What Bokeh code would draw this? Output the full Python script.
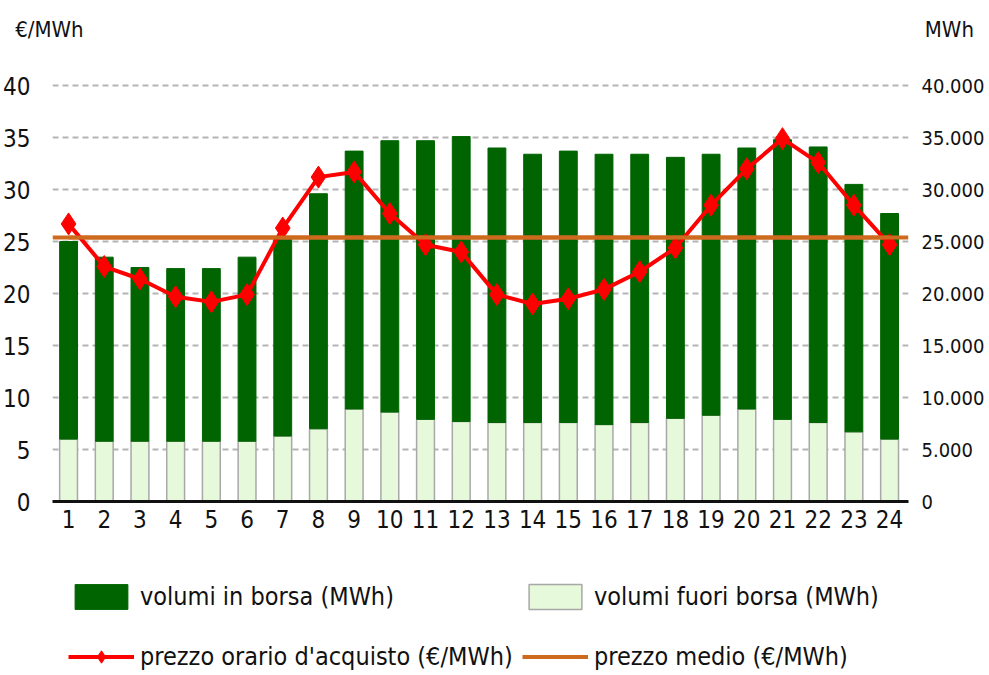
import numpy as np
from bokeh.plotting import figure
from bokeh.layouts import column
from bokeh.models import (LinearAxis, Range1d, FixedTicker, Span, Legend, LegendItem)
from bokeh.embed import file_html
from bokeh.resources import INLINE

# ---- data ----
ore = list(range(1, 25))
volumi_fuori_borsa = [6000, 5800, 5800, 5800, 5800, 5800, 6300, 7000, 8900, 8600, 7900, 7700,
                      7600, 7600, 7600, 7400, 7600, 8000, 8300, 8900, 7900, 7600, 6700, 6000]
volumi_in_borsa = [19000, 17700, 16700, 16600, 16600, 17700, 18900, 22600, 24800, 26100, 26800, 27400,
                   26400, 25800, 26100, 26000, 25800, 25100, 25100, 25100, 26900, 26500, 23800, 21700]
prezzo_orario = [26.7, 22.6, 21.4, 19.7, 19.2, 19.9, 26.3, 31.2, 31.7, 27.7, 24.7, 24.0,
                 19.9, 19.0, 19.5, 20.4, 22.1, 24.4, 28.5, 32.0, 34.9, 32.6, 28.5, 24.7]
prezzo_medio = 25.4

tick_prezzo = [0, 5, 10, 15, 20, 25, 30, 35, 40]
tick_volumi = [0, 5000, 10000, 15000, 20000, 25000, 30000, 35000, 40000]
tick_volumi_labels = ["0", "5.000", "10.000", "15.000", "20.000", "25.000", "30.000", "35.000", "40.000"]
unita_sinistra = "€/MWh"
unita_destra = "MWh"
etichette_legenda = ["volumi in borsa (MWh)", "volumi fuori borsa (MWh)",
                     "prezzo orario d'acquisto (€/MWh)", "prezzo medio (€/MWh)"]

FONT = "DejaVu Sans Condensed, Liberation Sans Narrow, Liberation Sans"
DARK = "#006400"
LIGHT = "#E6F9DA"
RED = "#FF0000"
ORANGE = "#CD6A1E"
TXT = "#111111"

W = 987
MAIN_H = 560
LEG_H = 673 - MAIN_H

fuori = np.array(volumi_fuori_borsa)
borsa = np.array(volumi_in_borsa)


def draw_series(fig):
    rf = fig.vbar(x=ore, width=0.5, bottom=0, top=fuori, y_range_name="vol",
                  fill_color=LIGHT, line_color="#A8A8A8", line_width=1.5)
    rb = fig.vbar(x=ore, width=0.5, bottom=fuori, top=fuori + borsa, y_range_name="vol",
                  fill_color=DARK, line_color=DARK, line_width=1)
    rm = fig.line(x=ore, y=[prezzo_medio] * len(ore), line_color=ORANGE, line_width=4)
    rl = fig.line(x=ore, y=prezzo_orario, line_color=RED, line_width=4)
    rs = fig.scatter(x=ore, y=prezzo_orario, marker="diamond", size=22,
                     fill_color=RED, line_color=RED)
    return rf, rb, rm, rl, rs


def plain_axis(ax, size, standoff):
    ax.axis_line_color = None
    ax.major_tick_line_color = None
    ax.minor_tick_line_color = None
    ax.major_tick_out = 0
    ax.major_tick_in = 0
    ax.minor_tick_out = 0
    ax.minor_tick_in = 0
    ax.major_label_standoff = standoff
    ax.major_label_text_font = FONT
    ax.major_label_text_font_size = size
    ax.major_label_text_color = TXT


# ---------------- main chart ----------------
p = figure(width=W, height=MAIN_H, output_backend="svg", toolbar_location=None,
           x_range=Range1d(0.55, 24.53), y_range=Range1d(0, 40.3),
           min_border_left=52, min_border_right=W - 912, min_border_top=82,
           min_border_bottom=MAIN_H - 501, margin=0)
p.outline_line_color = None
p.extra_y_ranges = {"vol": Range1d(0, 40300)}
p.extra_x_ranges = {"units": Range1d(0, 1)}

draw_series(p)
p.add_layout(Span(location=prezzo_medio, dimension="width", line_color=ORANGE, line_width=4))

p.xaxis.ticker = FixedTicker(ticks=ore)
plain_axis(p.xaxis[0], "24px", 8)
p.xaxis.axis_line_color = TXT
p.xaxis.axis_line_width = 3

p.yaxis.ticker = FixedTicker(ticks=tick_prezzo)
plain_axis(p.yaxis[0], "24px", 22)

ax_r = LinearAxis(y_range_name="vol", ticker=FixedTicker(ticks=tick_volumi),
                  major_label_overrides={t: l for t, l in zip(tick_volumi, tick_volumi_labels)})
plain_axis(ax_r, "20px", 13)
p.add_layout(ax_r, "right")

# unit captions above the plot, as labels of an axis at the frame edges
NB = "\u00a0"
ax_u = LinearAxis(x_range_name="units", ticker=FixedTicker(ticks=[0, 1]),
                  major_label_overrides={0: unita_sinistra + NB,
                                         1: NB * 13 + unita_destra})
plain_axis(ax_u, "22px", 41)
p.add_layout(ax_u, "above")

p.xgrid.grid_line_color = None
p.ygrid.grid_line_color = "#B4B4B4"
p.ygrid.grid_line_width = 2
p.ygrid.grid_line_dash = "6 4"

# ---------------- legend strip ----------------
q = figure(width=W, height=LEG_H, output_backend="svg", toolbar_location=None,
           x_range=Range1d(100, 101), y_range=Range1d(100, 101),
           x_axis_type=None, y_axis_type=None,
           min_border_left=0, min_border_right=0, min_border_top=0, min_border_bottom=0,
           margin=0)
q.outline_line_color = None
q.xgrid.grid_line_color = None
q.ygrid.grid_line_color = None
q.extra_y_ranges = {"vol": Range1d(100, 101)}
qf, qb, qm, ql, qs = draw_series(q)
for r in (qf, qb, qm, ql, qs):
    r.visible = False


def make_legend(items, x):
    return Legend(items=items, location=(x, 1), orientation="vertical",
                  label_text_font=FONT, label_text_font_size="25px", label_text_color=TXT,
                  glyph_width=66, glyph_height=31, label_height=30, label_standoff=6,
                  spacing=29, padding=0, margin=0, border_line_color=None,
                  background_fill_alpha=0, click_policy="none")


q.add_layout(make_legend([LegendItem(label=etichette_legenda[0], renderers=[qb]),
                          LegendItem(label=etichette_legenda[2], renderers=[ql, qs])], 16))
q.add_layout(make_legend([LegendItem(label=etichette_legenda[1], renderers=[qf]),
                          LegendItem(label=etichette_legenda[3], renderers=[qm])], 470))

page = column(p, q, spacing=0)
open("out.html", "w").write(file_html(page, INLINE))
